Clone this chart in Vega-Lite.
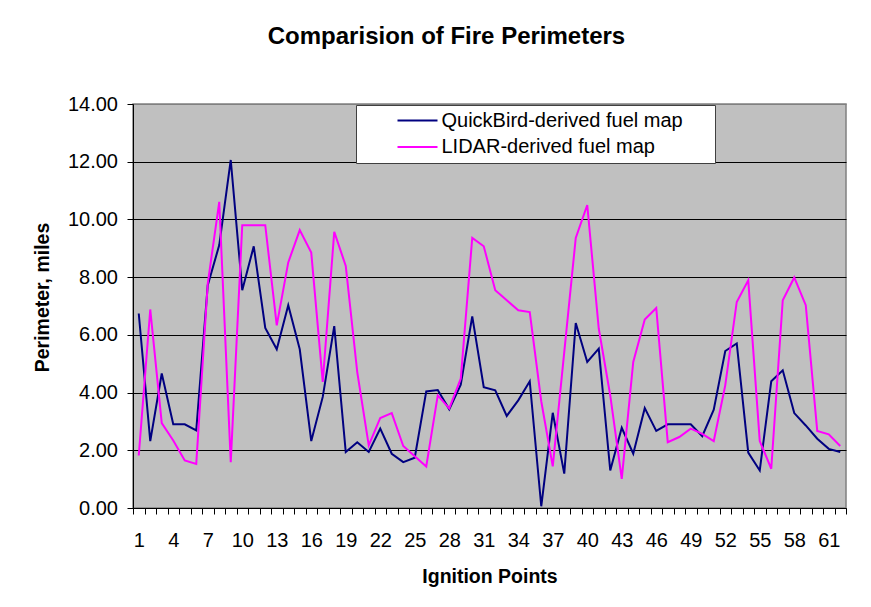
{
  "$schema": "https://vega.github.io/schema/vega-lite/v6.json",
  "width": 713,
  "height": 404,
  "autosize": {"type": "none"},
  "padding": {"left": 133, "top": 104, "right": 25, "bottom": 99},
  "background": "white",
  "title": {
    "text": "Comparision of Fire Perimeters",
    "font": "Liberation Sans",
    "fontSize": 24,
    "fontWeight": "bold",
    "color": "black",
    "anchor": "middle",
    "dx": -43,
    "offset": 45
  },
  "data": {
    "values": [
      {"point": 1, "QuickBird-derived fuel map": 6.74, "LIDAR-derived fuel map": 1.82},
      {"point": 2, "QuickBird-derived fuel map": 2.32, "LIDAR-derived fuel map": 6.88},
      {"point": 3, "QuickBird-derived fuel map": 4.66, "LIDAR-derived fuel map": 2.94},
      {"point": 4, "QuickBird-derived fuel map": 2.90, "LIDAR-derived fuel map": 2.34},
      {"point": 5, "QuickBird-derived fuel map": 2.90, "LIDAR-derived fuel map": 1.65},
      {"point": 6, "QuickBird-derived fuel map": 2.69, "LIDAR-derived fuel map": 1.53},
      {"point": 7, "QuickBird-derived fuel map": 7.72, "LIDAR-derived fuel map": 7.78},
      {"point": 8, "QuickBird-derived fuel map": 9.11, "LIDAR-derived fuel map": 10.61},
      {"point": 9, "QuickBird-derived fuel map": 12.06, "LIDAR-derived fuel map": 1.59},
      {"point": 10, "QuickBird-derived fuel map": 7.55, "LIDAR-derived fuel map": 9.80},
      {"point": 11, "QuickBird-derived fuel map": 9.07, "LIDAR-derived fuel map": 9.80},
      {"point": 12, "QuickBird-derived fuel map": 6.24, "LIDAR-derived fuel map": 9.80},
      {"point": 13, "QuickBird-derived fuel map": 5.50, "LIDAR-derived fuel map": 6.33},
      {"point": 14, "QuickBird-derived fuel map": 7.03, "LIDAR-derived fuel map": 8.51},
      {"point": 15, "QuickBird-derived fuel map": 5.50, "LIDAR-derived fuel map": 9.63},
      {"point": 16, "QuickBird-derived fuel map": 2.32, "LIDAR-derived fuel map": 8.85},
      {"point": 17, "QuickBird-derived fuel map": 3.85, "LIDAR-derived fuel map": 4.37},
      {"point": 18, "QuickBird-derived fuel map": 6.30, "LIDAR-derived fuel map": 9.57},
      {"point": 19, "QuickBird-derived fuel map": 1.94, "LIDAR-derived fuel map": 8.39},
      {"point": 20, "QuickBird-derived fuel map": 2.28, "LIDAR-derived fuel map": 4.71},
      {"point": 21, "QuickBird-derived fuel map": 1.94, "LIDAR-derived fuel map": 2.17},
      {"point": 22, "QuickBird-derived fuel map": 2.75, "LIDAR-derived fuel map": 3.12},
      {"point": 23, "QuickBird-derived fuel map": 1.88, "LIDAR-derived fuel map": 3.29},
      {"point": 24, "QuickBird-derived fuel map": 1.59, "LIDAR-derived fuel map": 2.15},
      {"point": 25, "QuickBird-derived fuel map": 1.74, "LIDAR-derived fuel map": 1.79},
      {"point": 26, "QuickBird-derived fuel map": 4.04, "LIDAR-derived fuel map": 1.44},
      {"point": 27, "QuickBird-derived fuel map": 4.09, "LIDAR-derived fuel map": 3.90},
      {"point": 28, "QuickBird-derived fuel map": 3.42, "LIDAR-derived fuel map": 3.45},
      {"point": 29, "QuickBird-derived fuel map": 4.27, "LIDAR-derived fuel map": 4.48},
      {"point": 30, "QuickBird-derived fuel map": 6.64, "LIDAR-derived fuel map": 9.36},
      {"point": 31, "QuickBird-derived fuel map": 4.19, "LIDAR-derived fuel map": 9.07},
      {"point": 32, "QuickBird-derived fuel map": 4.08, "LIDAR-derived fuel map": 7.55},
      {"point": 33, "QuickBird-derived fuel map": 3.19, "LIDAR-derived fuel map": 7.20},
      {"point": 34, "QuickBird-derived fuel map": 3.73, "LIDAR-derived fuel map": 6.85},
      {"point": 35, "QuickBird-derived fuel map": 4.39, "LIDAR-derived fuel map": 6.79},
      {"point": 36, "QuickBird-derived fuel map": 0.06, "LIDAR-derived fuel map": 3.70},
      {"point": 37, "QuickBird-derived fuel map": 3.30, "LIDAR-derived fuel map": 1.44},
      {"point": 38, "QuickBird-derived fuel map": 1.19, "LIDAR-derived fuel map": 5.40},
      {"point": 39, "QuickBird-derived fuel map": 6.41, "LIDAR-derived fuel map": 9.36},
      {"point": 40, "QuickBird-derived fuel map": 5.06, "LIDAR-derived fuel map": 10.50},
      {"point": 41, "QuickBird-derived fuel map": 5.52, "LIDAR-derived fuel map": 6.22},
      {"point": 42, "QuickBird-derived fuel map": 1.30, "LIDAR-derived fuel map": 3.90},
      {"point": 43, "QuickBird-derived fuel map": 2.78, "LIDAR-derived fuel map": 1.01},
      {"point": 44, "QuickBird-derived fuel map": 1.88, "LIDAR-derived fuel map": 5.06},
      {"point": 45, "QuickBird-derived fuel map": 3.46, "LIDAR-derived fuel map": 6.53},
      {"point": 46, "QuickBird-derived fuel map": 2.67, "LIDAR-derived fuel map": 6.93},
      {"point": 47, "QuickBird-derived fuel map": 2.90, "LIDAR-derived fuel map": 2.28},
      {"point": 48, "QuickBird-derived fuel map": 2.90, "LIDAR-derived fuel map": 2.46},
      {"point": 49, "QuickBird-derived fuel map": 2.90, "LIDAR-derived fuel map": 2.75},
      {"point": 50, "QuickBird-derived fuel map": 2.49, "LIDAR-derived fuel map": 2.57},
      {"point": 51, "QuickBird-derived fuel map": 3.41, "LIDAR-derived fuel map": 2.32},
      {"point": 52, "QuickBird-derived fuel map": 5.44, "LIDAR-derived fuel map": 4.25},
      {"point": 53, "QuickBird-derived fuel map": 5.70, "LIDAR-derived fuel map": 7.14},
      {"point": 54, "QuickBird-derived fuel map": 1.92, "LIDAR-derived fuel map": 7.89},
      {"point": 55, "QuickBird-derived fuel map": 1.30, "LIDAR-derived fuel map": 2.32},
      {"point": 56, "QuickBird-derived fuel map": 4.39, "LIDAR-derived fuel map": 1.36},
      {"point": 57, "QuickBird-derived fuel map": 4.77, "LIDAR-derived fuel map": 7.20},
      {"point": 58, "QuickBird-derived fuel map": 3.29, "LIDAR-derived fuel map": 7.99},
      {"point": 59, "QuickBird-derived fuel map": 2.86, "LIDAR-derived fuel map": 7.03},
      {"point": 60, "QuickBird-derived fuel map": 2.40, "LIDAR-derived fuel map": 2.67},
      {"point": 61, "QuickBird-derived fuel map": 2.05, "LIDAR-derived fuel map": 2.55},
      {"point": 62, "QuickBird-derived fuel map": 1.94, "LIDAR-derived fuel map": 2.15}
    ]
  },
  "transform": [
    {"fold": ["QuickBird-derived fuel map", "LIDAR-derived fuel map"], "as": ["series", "value"]}
  ],
  "mark": {"type": "line", "strokeWidth": 2, "clip": false},
  "encoding": {
    "x": {
      "field": "point",
      "type": "ordinal",
      "scale": {"type": "band", "paddingInner": 0, "paddingOuter": 0},
      "axis": {
        "title": "Ignition Points",
        "labelAngle": 0,
        "tickBand": "extent",
        "labelExpr": "(datum.value - 1) % 3 == 0 ? datum.label : ''",
        "tickSize": 6,
        "labelPadding": 16,
        "titlePadding": 17
      }
    },
    "y": {
      "field": "value",
      "type": "quantitative",
      "scale": {"domain": [0, 14], "nice": false, "zero": true},
      "axis": {
        "title": "Perimeter, miles",
        "values": [0, 2, 4, 6, 8, 10, 12, 14],
        "format": ".2f",
        "grid": true,
        "gridColor": {"condition": {"test": "datum.value == 14", "value": "#808080"}, "value": "black"},
        "tickSize": 6,
        "labelPadding": 9.5,
        "titlePadding": 15,
        "titleY": 193
      }
    },
    "color": {
      "field": "series",
      "type": "nominal",
      "scale": {
        "domain": ["QuickBird-derived fuel map", "LIDAR-derived fuel map"],
        "range": ["#000080", "#FF00FF"]
      },
      "legend": {
        "title": " ",
        "titleOrient": "right",
        "titleFontSize": 1,
        "titlePadding": 27,
        "orient": "none",
        "legendX": 223,
        "legendY": 1,
        "fillColor": "white",
        "strokeColor": "#404040",
        "padding": 5.5,
        "symbolType": "stroke",
        "symbolSize": 1600,
        "symbolStrokeWidth": 2,
        "symbolOffset": 35,
        "clipHeight": 20,
        "rowPadding": 6.6,
        "labelOffset": 3,
        "labelFontSize": 20,
        "labelFont": "Liberation Sans",
        "labelColor": "black",
        "labelLimit": 0
      }
    }
  },
  "config": {
    "view": {"fill": "#C0C0C0", "stroke": "#808080", "strokeWidth": 1.5},
    "axis": {
      "labelFont": "Liberation Sans",
      "labelFontSize": 20,
      "labelColor": "black",
      "titleFont": "Liberation Sans",
      "titleFontSize": 19.5,
      "titleFontWeight": "bold",
      "titleColor": "black",
      "domainColor": "black",
      "domainWidth": 1,
      "tickColor": "black",
      "tickWidth": 1,
      "gridWidth": 1
    }
  }
}
